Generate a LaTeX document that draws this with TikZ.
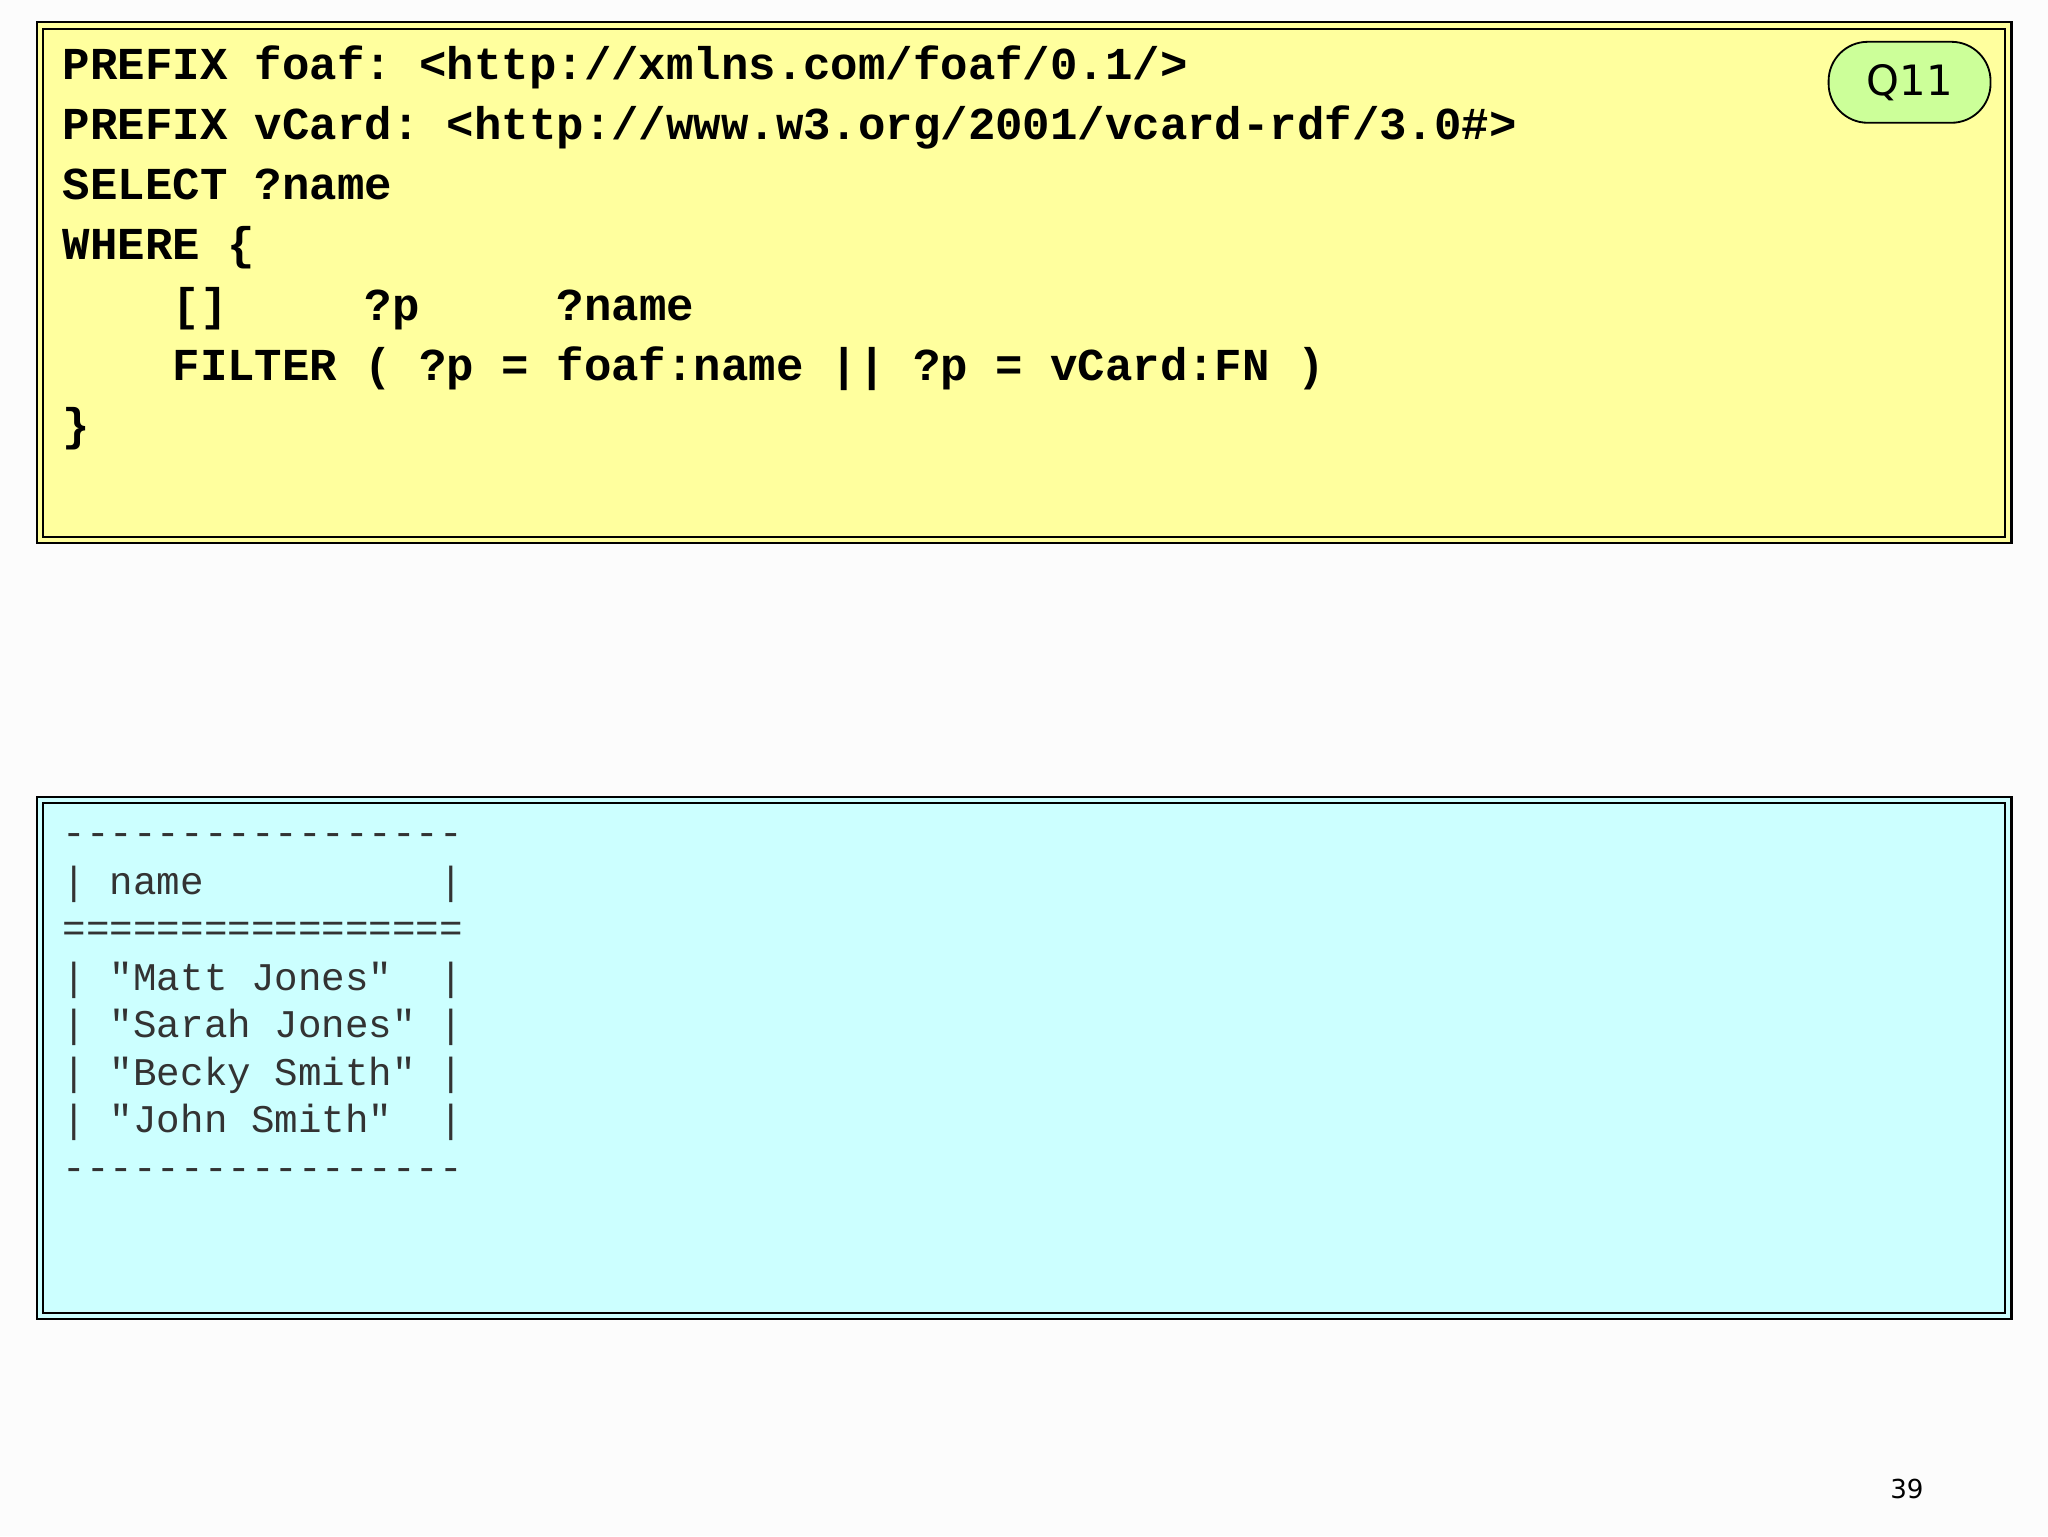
\documentclass[tikz,border=0pt]{standalone}
\usepackage{fontspec}
\setmonofont{Liberation Mono}
\newfontfamily\dejavu{DejaVu Sans}
\definecolor{qyellow}{HTML}{FFFF9E}
\definecolor{qcyan}{HTML}{CCFFFF}
\definecolor{qgreen}{HTML}{CCFF99}
\tikzset{
  frame/.style={draw=black,line width=1.6pt},
  codeline/.style={anchor=base west,inner sep=0pt,font=\ttfamily\bfseries\fontsize{35}{35}\selectfont},
  resline/.style={anchor=base west,inner sep=0pt,text=black!80,font=\ttfamily\fontsize{30}{30}\selectfont},
}
\begin{document}
\begin{tikzpicture}[x=1pt,y=-1pt]
\fill[white!99!black] (0,0) rectangle (1568,1176);
\useasboundingbox (0,0) rectangle (1568,1176);
% query box
\fill[qyellow] (28,17) rectangle (1540,416);
\draw[frame] (28,17) rectangle (1540,416);
\draw[frame] (33,22) rectangle (1535,411);
\node[codeline] (l1) at (48,61) {PREFIX~foaf:~<http://xmlns.com/foaf/0.1/>};
\node[codeline] (l2) at (48,107) {PREFIX~vCard:~<http://www.w3.org/2001/vcard-rdf/3.0\#>};
\node[codeline] (l3) at (48,153) {SELECT~?name};
\node[codeline] (l4) at (48,199) {WHERE~\{};
\node[codeline] (l5) at (48,245) {~~~~[]~~~~~?p~~~~~?name};
\node[codeline] (l6) at (48,291) {~~~~FILTER~(~?p~=~foaf:name~||~?p~=~vCard:FN~)};
\node[codeline] (l7) at (48,337) {\}};
\node[draw=black,line width=1.4pt,fill=qgreen,rounded corners=30pt,minimum width=124pt,minimum height=62pt,inner sep=0pt,font=\dejavu\fontsize{32}{32}\selectfont] (q) at (1462,63) {Q11};
% result box
\fill[qcyan] (28,610) rectangle (1540,1010);
\draw[frame] (28,610) rectangle (1540,1010);
\draw[frame] (33,615) rectangle (1535,1005);
\node[resline] (r1) at (48,647) {-----------------};
\node[resline] (r2) at (48,685) {|~name~~~~~~~~~~|};
\node[resline] (r3) at (48,721) {=================};
\node[resline] (r4) at (48,758) {|~"Matt~Jones"~~|};
\node[resline] (r5) at (48,794) {|~"Sarah~Jones"~|};
\node[resline] (r6) at (48,831) {|~"Becky~Smith"~|};
\node[resline] (r7) at (48,867) {|~"John~Smith"~~|};
\node[resline] (r8) at (48,904) {-----------------};
\node[font=\dejavu\fontsize{20}{20}\selectfont,inner sep=0pt] (pg) at (1460,1140) {39};
\end{tikzpicture}
\end{document}
